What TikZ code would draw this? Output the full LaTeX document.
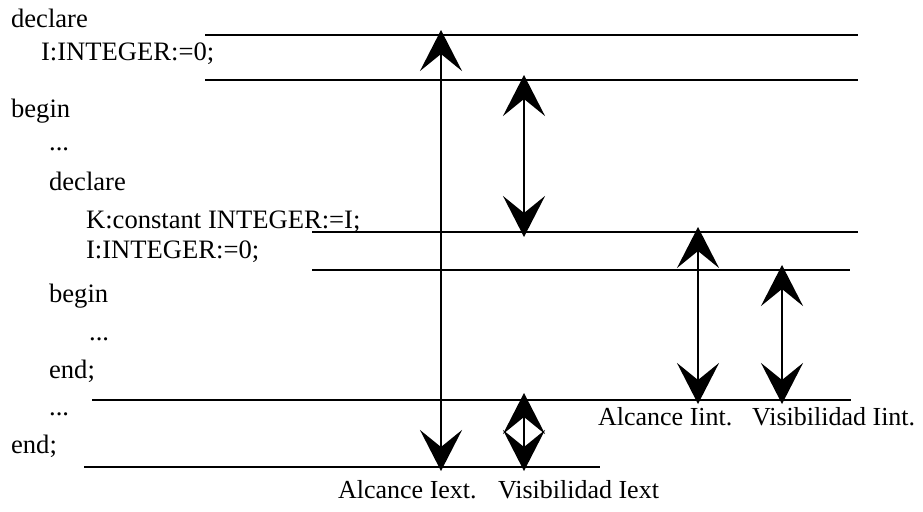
\documentclass[tikz,border=0pt]{standalone}
\usepackage{fontspec}
\setmainfont{Liberation Serif}
\usetikzlibrary{arrows.meta}

\begin{document}
\begin{tikzpicture}[x=1pt, y=-1pt, line width=2.2pt,
  >={Stealth[length=41pt, width=42pt, inset=17pt]},
  code/.style={anchor=base west, inner sep=0pt, font=\fontsize{26.6}{30}\selectfont},
  label/.style={anchor=base west, inner sep=0pt, font=\fontsize{26}{30}\selectfont}]
  \useasboundingbox (0,0) rectangle (923,511);
  % program text
  \foreach \x/\y/\txt [count=\i] in {10/28/declare, 40/60/{I:INTEGER:=0;}, 10/117/begin,
      48/150/{...}, 48/190/declare, 85/228/{K:constant INTEGER:=I;}, 85/258/{I:INTEGER:=0;},
      48/302/begin, 88/340/{...}, 48/378/{end;}, 48/415/{...}, 10/453/{end;}}{
    \node[code] (c\i) at (\x,\y) {\txt};
  }
  % region lines
  \foreach \n/\xa/\xb/\y in {1/205/858/35, 2/205/858/80, 3/312/858/232,
      4/312/850/270, 5/92/851/400, 6/84/600/467}{
    \coordinate (l\n a) at (\xa,\y);
    \coordinate (l\n b) at (\xb,\y);
    \draw (l\n a) -- (l\n b);
  }
  % scope and visibility arrows
  \foreach \n/\x/\ya/\yb in {ext/441/30/471, vext/524/393/471, vsup/524/75/237,
      int/698/227/404, vint/782/265/404}{
    \coordinate (a\n a) at (\x,\ya);
    \coordinate (a\n b) at (\x,\yb);
    \draw[<->] (a\n a) -- (a\n b);
  }
  \node[label] (aiext) at (337,498) {Alcance Iext.};
  \node[label] (viext) at (497,498) {Visibilidad Iext};
  \node[label] (aiint) at (597,425) {Alcance Iint.};
  \node[label] (viint) at (751,425) {Visibilidad Iint.};
\end{tikzpicture}
\end{document}
